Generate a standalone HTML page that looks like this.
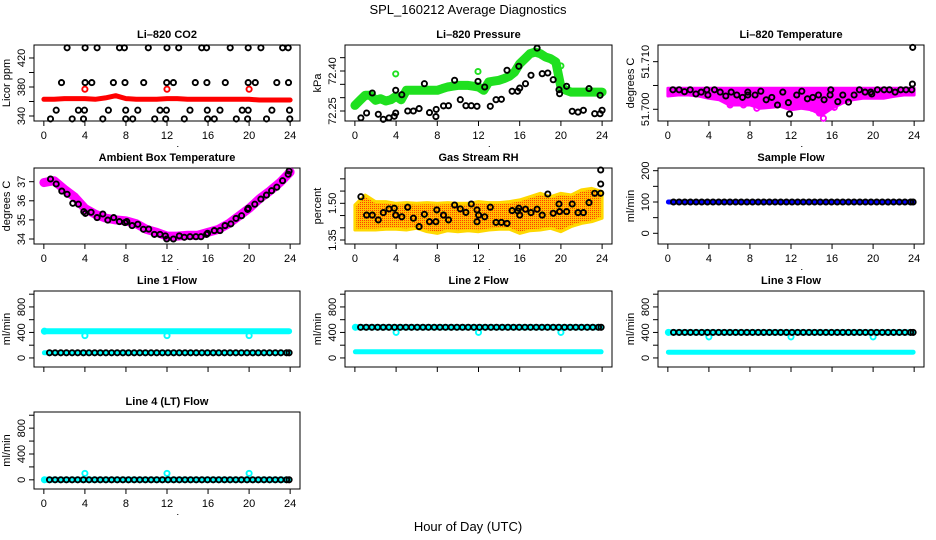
<!DOCTYPE html>
<html><head><meta charset="utf-8"><title>SPL_160212 Average Diagnostics</title>
<style>
html,body{margin:0;padding:0;background:#fff;}
svg{display:block;font-family:"Liberation Sans",Arial,sans-serif;}
</style></head>
<body>
<svg id="chart" width="936" height="540" viewBox="0 0 936 540" xmlns="http://www.w3.org/2000/svg">
<defs>
<pattern id="rhpat" width="2" height="2" patternUnits="userSpaceOnUse">
<rect width="2" height="2" fill="#ffc000"/><rect width="1" height="1" fill="#ff4000"/>
</pattern>
</defs>
<text x="468" y="14" text-anchor="middle" font-size="13">SPL_160212  Average Diagnostics</text>
<text x="468" y="531" text-anchor="middle" font-size="13">Hour of Day (UTC)</text>
</svg>
<script>
// ---------- data ----------
const hourly = [0,1,2,3,4,5,6,7,8,9,10,11,12,13,14,15,16,17,18,19,20,21,22,23,24];
const xTicks = [0,4,8,12,16,20,24];
const obsHours = [0.55,1.1,1.65,2.2,2.75,3.3,3.85,4.4,4.95,5.5,6.05,6.6,7.15,7.7,8.25,8.8,9.35,9.9,10.45,11.0,11.55,12.1,12.65,13.2,13.75,14.3,14.85,15.4,15.95,16.5,17.05,17.6,18.15,18.7,19.25,19.8,20.35,20.9,21.45,22.0,22.55,23.1,23.65,23.9];
const outlierHours = [4,12,20];

// CO2
const co2Band = [363,363,364,364,364,363,365,368,364,363,363,363,364,364,363,363,363,363,363,363,363,362,362,362,362];
const co2RedY = [377,377,377];
const co2BlackX = [2.27,4.02,5.19,7.37,7.85,10.18,12.0,13.14,15.38,15.86,18.16,19.91,21.15,23.26,23.81,
 1.72,4.02,4.67,6.78,7.91,9.73,11.97,12.62,14.76,15.89,17.68,19.91,20.6,22.7,23.84,
 1.2,3.37,3.96,6.29,7.98,9.15,11.32,11.94,14.24,15.93,17.16,19.33,19.91,22.22,23.94,
 0.65,2.76,3.86,5.74,7.98,8.66,10.8,11.87,13.69,15.96,16.61,18.75,19.85,21.7,23.97];
const co2BlackY = [434,434,434,434,434,434,434,434,434,434,434,434,434,434,434,
 386,386,386,386,386,386,386,386,386,386,386,386,386,386,386,
 348,348,348,348,348,348,348,348,348,348,348,348,348,348,348,
 336,336,336,336,336,336,336,336,336,336,336,336,336,336,336];

// Pressure
const presHours = [0,0.5,1,1.5,2,2.5,3,3.5,4,4.5,5,5.5,6,6.5,7,7.5,8,8.5,9,9.5,10,10.5,11,11.5,12,12.5,13,13.5,14,14.5,15,15.5,16,16.5,17,17.5,18,18.5,19,19.5,20,20.5,21,21.5,22,22.5,23,23.5,24];
const presBand = [72.271,72.29,72.309,72.309,72.29,72.296,72.2875,72.2925,72.305,72.2925,72.3275,72.3275,72.3275,72.3275,72.3275,72.3275,72.3275,72.334,72.34,72.343,72.346,72.346,72.346,72.343,72.34,72.3275,72.359,72.362,72.365,72.372,72.38,72.396,72.4275,72.446,72.465,72.471,72.465,72.4525,72.446,72.434,72.34,72.3275,72.321,72.321,72.321,72.321,72.321,72.321,72.321];
const presGreenX = [3.96,11.95,20.0];
const presGreenY = [72.389,72.398,72.419];
const presBlackX = [0.58,1.14,1.69,2.27,2.76,3.31,3.83,3.96,3.96,4.55,5.13,5.68,6.23,6.75,7.24,7.86,7.89,8.6,9.09,9.68,10.23,10.78,11.3,11.85,11.95,12.6,13.15,13.7,14.22,14.77,15.26,15.81,15.91,16.0,16.56,17.1,17.69,18.18,18.73,19.25,19.81,19.87,20.55,21.1,21.66,22.18,22.73,23.28,23.8,23.8,24.0];
const presBlackY = [72.224,72.2425,72.3175,72.2375,72.219,72.224,72.23,72.2425,72.3275,72.311,72.25,72.25,72.259,72.3525,72.244,72.229,72.256,72.269,72.27,72.365,72.2925,72.27,72.27,72.2675,72.361,72.34,72.2675,72.2925,72.294,72.4025,72.324,72.324,72.4175,72.336,72.3525,72.384,72.486,72.39,72.3925,72.3675,72.33,72.315,72.3425,72.249,72.246,72.2525,72.334,72.24,72.309,72.24,72.2525];

// Li-820 temperature
const tempTop = [51.7044,51.7044,51.7044,51.7044,51.7044,51.7044,51.7044,51.7044,51.7044,51.7044,51.7044,51.7044,51.7044,51.7044,51.7044,51.7044,51.7044,51.7044,51.7044,51.7044,51.7044,51.7044,51.7044,51.7044,51.7044];
const tempBottom = [51.7028,51.7030,51.7030,51.7028,51.7023,51.7020,51.7009,51.7009,51.7009,51.7002,51.7004,51.7006,51.6999,51.7002,51.6999,51.6988,51.7002,51.7013,51.7020,51.7023,51.7023,51.7023,51.7027,51.7030,51.7030];
const tempMagX = [8.67,12.24,14.03,14.77,15.16,16.23,6.07,7.37];
const tempMagY = [51.7002,51.7007,51.7002,51.6992,51.6981,51.7004,51.7009,51.7009];
const tempBlackX = [0.49,1.1,1.62,2.18,2.73,3.25,3.8,3.9,4.55,5.1,5.65,6.17,6.72,7.27,7.79,7.79,8.5,9.06,9.58,10.13,10.68,11.2,11.75,11.85,12.56,13.05,13.6,14.12,14.68,15.23,15.81,15.88,16.56,17.05,17.6,18.15,18.67,19.22,19.77,19.87,20.42,21.07,21.59,22.14,22.69,23.21,23.77,23.83,23.86];
const tempBlackY = [51.7041,51.7041,51.7037,51.7041,51.7032,51.7036,51.7041,51.7030,51.7041,51.7036,51.7028,51.7036,51.7030,51.7025,51.7036,51.7030,51.7030,51.7038,51.7020,51.7025,51.7009,51.7036,51.7014,51.6990,51.7030,51.7038,51.7022,51.7025,51.7030,51.7020,51.7030,51.7041,51.7016,51.7030,51.7015,51.7030,51.7041,51.7036,51.7036,51.7032,51.7041,51.7041,51.7041,51.7036,51.7041,51.7041,51.7041,51.7053,51.7130];

// Ambient box temperature
const ambBand = [36.95,37.05,36.6,36.2,35.6,35.3,35.1,35.0,34.95,34.8,34.5,34.35,34.15,34.15,34.2,34.2,34.35,34.5,34.8,35.2,35.6,36.1,36.5,36.95,37.5];
const ambBlackX = [0.65,1.2,1.75,2.27,2.82,3.37,3.89,4.05,4.6,5.19,5.74,6.23,6.81,7.36,7.91,8.08,8.6,9.15,9.7,10.22,10.77,11.32,11.84,11.97,12.62,13.2,13.69,14.24,14.82,15.31,15.86,15.96,16.61,17.16,17.65,18.23,18.72,19.27,19.85,19.92,20.56,21.15,21.7,22.19,22.7,23.26,23.81,23.9];
const ambBlackY = [37.14,36.88,36.51,36.34,35.87,35.82,35.43,35.34,35.4,35.12,35.31,34.99,35.12,34.91,34.86,34.91,34.70,34.77,34.51,34.52,34.24,34.24,34.16,34.0,34.0,34.16,34.09,34.12,34.12,34.12,34.24,34.3,34.44,34.44,34.70,34.79,35.08,35.22,35.55,35.61,35.82,36.09,36.3,36.53,36.71,37.05,37.39,37.56];

// Gas stream RH
const rhTop = [1.493,1.534,1.507,1.507,1.50,1.503,1.50,1.503,1.50,1.503,1.50,1.50,1.507,1.503,1.503,1.507,1.514,1.527,1.541,1.527,1.541,1.534,1.555,1.561,1.548];
const rhBottom = [1.391,1.391,1.391,1.394,1.394,1.391,1.398,1.384,1.377,1.388,1.384,1.388,1.384,1.391,1.394,1.394,1.377,1.388,1.391,1.398,1.384,1.405,1.418,1.425,1.439];
const rhBlackX = [0.58,1.14,1.69,2.27,2.76,3.31,3.83,3.96,4.55,5.13,5.68,6.23,6.75,7.24,7.86,7.95,8.6,9.09,9.68,10.23,10.78,11.3,11.85,11.85,12.01,12.6,13.15,13.7,14.22,14.77,15.26,15.81,15.91,16.0,16.56,17.1,17.69,18.18,18.73,19.25,19.81,19.87,20.55,21.1,21.66,22.18,22.73,23.28,23.86,23.86,23.86];
const rhBlackY = [1.527,1.452,1.452,1.432,1.462,1.477,1.48,1.452,1.445,1.484,1.439,1.405,1.455,1.425,1.425,1.473,1.452,1.432,1.493,1.477,1.463,1.497,1.473,1.425,1.452,1.445,1.484,1.422,1.422,1.418,1.47,1.469,1.48,1.452,1.476,1.462,1.476,1.452,1.538,1.459,1.497,1.466,1.466,1.497,1.462,1.462,1.503,1.541,1.541,1.579,1.636];

// Flows (levels in ml/min)
const sampleLevels = {band:100, black:100};
const line1Levels = [420, 80, 80];   // cyan high, cyan low, black
const line1Outliers = [350, 350, 350];
const line2Levels = [480, 96, 480];
const line2Outliers = [400, 400, 400];
const line3Levels = [400, 90, 400];
const line3Outliers = [330, 330, 330];
const line4Levels = [0, 0, 0];
const line4Outliers = [100, 100, 100];

// ---------- layout ----------
const cols = [[34,300],[345,612],[658,924]];
const rows = [[45,121],[168,244],[291,367],[412,489]];
const svg = document.getElementById('chart');
const NS = 'http://www.w3.org/2000/svg';
function mk(tag, attrs, parent){
  const e = document.createElementNS(NS, tag);
  for (const k in attrs) e.setAttribute(k, attrs[k]);
  (parent||svg).appendChild(e);
  return e;
}
function makePanel(col,row,ymin,ymax){
  const [x0,x1]=cols[col], [y0,y1]=rows[row];
  return {x0,x1,y0,y1,
    sx:v=>x0+(v+0.96)/25.92*(x1-x0),
    sy:v=>y1-(v-ymin)/(ymax-ymin)*(y1-y0)};
}
function frame(p, name, title, ylab, yticks, ylabels, showXLabels){
  const g = mk('g',{});
  
  
  const t = mk('text',{x:(p.x0+p.x1)/2,y:p.y0-7,'text-anchor':'middle','font-size':11,'font-weight':'bold'},g);
  t.textContent = title;
  
  
  const r = mk('rect',{x:p.x0,y:p.y0,width:p.x1-p.x0,height:p.y1-p.y0,fill:'none',stroke:'#000','stroke-width':1},g);
  
  
  for (const v of yticks){
    const y = p.sy(v);
    const tk = mk('line',{x1:p.x0-5,x2:p.x0,y1:y,y2:y,stroke:'#000'},g);
    
    
  }
  for (const v of ylabels){
    const y = p.sy(v), x = p.x0-9;
    const lt = mk('text',{x:x,y:y,'text-anchor':'middle','font-size':11,transform:`rotate(-90 ${x} ${y})`},g);
    lt.textContent = String(v);
    
    
  }
  const yl = mk('text',{x:p.x0-24,y:(p.y0+p.y1)/2,'text-anchor':'middle','font-size':11,transform:`rotate(-90 ${p.x0-24} ${(p.y0+p.y1)/2})`},g);
  yl.textContent = ylab;
  
  
  for (const v of xTicks){
    const x = p.sx(v);
    const tk = mk('line',{x1:x,x2:x,y1:p.y1,y2:p.y1+5,stroke:'#000'},g);
    
    
    if (showXLabels){
      const lt = mk('text',{x:x,y:p.y1+18,'text-anchor':'middle','font-size':11},g);
      lt.textContent = String(v);
      
      
    }
  }
  if (showXLabels){
    const d = mk('rect',{x:p.sx(13),y:p.y1+25,width:1,height:1,fill:'#000'},g);
    
    
  }
  return g;
}
function band(p, xs, ys, color, w, name){
  const d = xs.map((x,i)=>(i?'L':'M')+p.sx(x).toFixed(1)+' '+p.sy(ys[i]).toFixed(1)).join('');
  const e = mk('path',{d:d,fill:'none',stroke:color,'stroke-width':w,'stroke-linejoin':'round','stroke-linecap':'round'});
  
  
}
function area(p, xs, top, bot, fill, name){
  let d = xs.map((x,i)=>(i?'L':'M')+p.sx(x).toFixed(1)+' '+p.sy(top[i]).toFixed(1)).join('');
  for (let i=xs.length-1;i>=0;i--) d += 'L'+p.sx(xs[i]).toFixed(1)+' '+p.sy(bot[i]).toFixed(1);
  const e = mk('path',{d:d+'Z',fill:fill,stroke:fill==='url(#rhpat)'?'#ffd800':fill,'stroke-width':3,'stroke-linejoin':'round'});
  
  
}
function points(p, xs, ys, color, name){
  const g = mk('g',{});
  
  
  xs.forEach((x,i)=>{
    const c = mk('circle',{cx:p.sx(x).toFixed(1),cy:p.sy(ys[i]).toFixed(1),r:2.6,fill:'none',stroke:color,'stroke-width':1.9},g);
    
    
  });
}
function flatBand(p, level, color, w, name){
  band(p, [0.05, 23.9], [level, level], color, w, name);
}
function rep(v,n){ return obsHours.slice(0,n).map(()=>v); }

// ---------- panels ----------
let p = makePanel(0,0,333.1,437.9);
frame(p,'co2-panel','Li\u2013820 CO2','Licor ppm',[340,360,380,400,420],[340,380,420],true);
band(p, hourly, co2Band, '#ff0000', 5, 'co2-band');
points(p, outlierHours, co2RedY, '#ff0000', 'co2-red-points');
points(p, co2BlackX, co2BlackY, '#000', 'co2-black-points');

p = makePanel(1,0,72.2125,72.4975);
frame(p,'pressure-panel','Li\u2013820 Pressure','kPa',[72.25,72.30,72.35,72.40,72.45],['72.25','72.40'],true);
band(p, presHours, presBand, '#1fe01f', 9, 'pressure-band');
points(p, presGreenX, presGreenY, '#1fe01f', 'pressure-green-points');
points(p, presBlackX, presBlackY, '#000', 'pressure-black-points');

p = makePanel(2,0,51.69754,51.7135);
frame(p,'temperature-panel','Li\u2013820 Temperature','degrees C',[51.700,51.705,51.710],['51.700','51.710'],true);
area(p, hourly, tempTop, tempBottom, '#ff00ff', 'temperature-band');
points(p, tempMagX, tempMagY, '#ff00ff', 'temperature-magenta-points');
points(p, tempBlackX, tempBlackY, '#000', 'temperature-black-points');

p = makePanel(0,1,33.738,37.717);
frame(p,'ambient-panel','Ambient Box Temperature','degrees C',[34,35,36,37],[34,35,36,37],true);
band(p, hourly, ambBand, '#ff00ff', 9, 'ambient-band');
points(p, ambBlackX, ambBlackY, '#000', 'ambient-black-points');

p = makePanel(1,1,1.3337,1.6443);
frame(p,'rh-panel','Gas Stream RH','percent',[1.35,1.40,1.45,1.50,1.55,1.60],['1.35','1.50'],true);
area(p, hourly, rhTop, rhBottom, 'url(#rhpat)', 'rh-band');
points(p, rhBlackX, rhBlackY, '#000', 'rh-black-points');

p = makePanel(2,1,-34.2,208.6);
frame(p,'sample-flow-panel','Sample Flow','ml/min',[0,50,100,150,200],[0,100,200],true);
flatBand(p, sampleLevels.band, '#0000ff', 5, 'sample-flow-band');
points(p, obsHours, rep(sampleLevels.black, obsHours.length), '#000', 'sample-flow-black-points');

const flowTicks = [0,200,400,600,800,1000], flowLabels = [0,400,800];
function flowPanel(col,row,name,title,levels,outl,showX){
  const q = makePanel(col,row,-142,1050);
  frame(q,name,title,'ml/min',flowTicks,flowLabels,showX);
  flatBand(q, levels[1], '#00ffff', 5, name+'-cyan-low-band');
  flatBand(q, levels[0], '#00ffff', 6, name+'-cyan-high-band');
  points(q, [0.05], [levels[0]], '#00ffff', name+'-cyan-start-point');
  points(q, outlierHours, outl, '#00ffff', name+'-cyan-outliers');
  points(q, obsHours, rep(levels[2], obsHours.length), '#000', name+'-black-points');
}
flowPanel(0,2,'line1-flow-panel','Line 1 Flow',line1Levels,line1Outliers,false);
flowPanel(1,2,'line2-flow-panel','Line 2 Flow',line2Levels,line2Outliers,false);
flowPanel(2,2,'line3-flow-panel','Line 3 Flow',line3Levels,line3Outliers,false);
flowPanel(0,3,'line4-flow-panel','Line 4 (LT) Flow',line4Levels,line4Outliers,true);
</script>
</body></html>
